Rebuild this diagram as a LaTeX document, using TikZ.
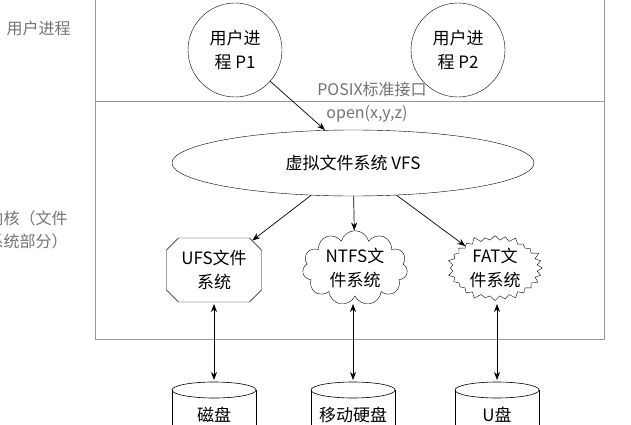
\documentclass[tikz,border=0pt]{standalone}
\usepackage{fontspec}
\setmainfont{Noto Sans CJK SC}
\usetikzlibrary{shapes.geometric,shapes.symbols,shapes.misc,arrows.meta}
\begin{document}
\begin{tikzpicture}[x=1pt,y=-1pt,
  frame/.style={draw=gray!80,line width=0.8pt},
  lbl/.style={font=\fontsize{16}{23}\selectfont,text=gray!90!black,align=left},
  txt/.style={font=\fontsize{17}{24}\selectfont,align=center},
  arr/.style={-{Stealth[length=8pt,width=6pt]},line width=0.7pt},
  darr/.style={{Stealth[length=8pt,width=6pt]}-{Stealth[length=8pt,width=6pt]},line width=0.7pt}]
\useasboundingbox (0,0) rectangle (631,425);
\clip (0,0) rectangle (631,425);
\draw[frame] (95,-5) -- (95,339) -- (604,339) -- (604,-5);
\draw[frame] (95,101) -- (604,101);
\node[lbl,anchor=west] (ul) at (3,28) {用户进程};
\node[lbl,anchor=west] (kl) at (-16,230) {内核（文件\\系统部分）};
\node[draw,circle,minimum size=94pt,txt,inner sep=0pt] (p1) at (235,50) {用户进\\程 P1};
\node[draw,circle,minimum size=94pt,txt,inner sep=0pt] (p2) at (458,50) {用户进\\程 P2};
\node[lbl] (posix) at (372,89) {POSIX标准接口};
\node[lbl] (open) at (367,114) {open(x,y,z)};
\node[draw,ellipse,minimum width=362pt,minimum height=66pt,txt] (vfs) at (353,163) {虚拟文件系统 VFS};
\node[draw,chamfered rectangle,chamfered rectangle xsep=6pt,chamfered rectangle ysep=6pt,minimum width=95pt,minimum height=64pt,inner sep=0pt,txt] (ufs) at (214,270) {UFS文件\\系统};
\node[draw,cloud,cloud puffs=11,aspect=1.7,minimum width=105pt,minimum height=64pt,inner sep=0pt,txt] (ntfs) at (355,268) {NTFS文\\件系统};
\node[draw,starburst,starburst points=28,starburst point height=6pt,minimum width=97pt,minimum height=64pt,inner sep=0pt,txt] (fat) at (495,268) {FAT文\\件系统};
\coordinate (vt) at (325,130);
\draw[arr] (p1) -- (vt);
\draw[arr] (vfs) -- (ufs);
\draw[arr] (vfs) -- (ntfs);
\draw[arr] (vfs) -- (fat);
\foreach \n/\x/\t in {d1/214/磁盘,d2/353/移动硬盘,d3/497/U盘}{
  \draw[line width=0.6pt,fill=white] (\x-42,390) -- (\x-42,430) -- (\x+42,430) -- (\x+42,390);
  \draw[line width=0.6pt] (\x,390) ellipse (42pt and 8pt);
  \node[txt] (\n) at (\x,415) {\t};
}
\coordinate (t1) at (214,304); \coordinate (b1) at (214,380);
\coordinate (t2) at (353,304); \coordinate (b2) at (353,380);
\coordinate (t3) at (497,304); \coordinate (b3) at (497,380);
\draw[darr] (t1) -- (b1);
\draw[darr] (t2) -- (b2);
\draw[darr] (t3) -- (b3);
\end{tikzpicture}
\end{document}
